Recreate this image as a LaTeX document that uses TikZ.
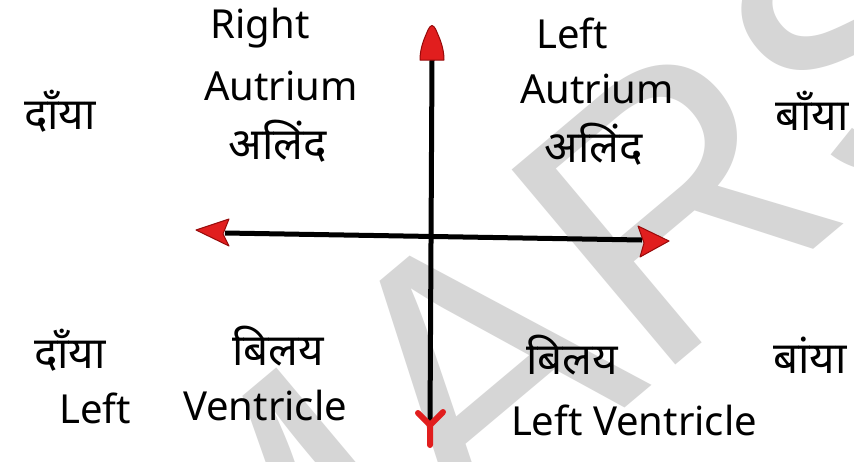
\documentclass[tikz,border=0pt]{standalone}
\usepackage{fontspec}
\setmainfont{Noto Sans}
\newfontfamily\deva[Script=Devanagari]{Noto Sans}
\newfontfamily\wmfont{Liberation Sans}
\usetikzlibrary{arrows.meta}
\definecolor{tipred}{RGB}{225,30,30}
\definecolor{tipdark}{RGB}{150,10,10}
\definecolor{wmgray}{RGB}{214,214,214}
\tikzset{
  lat/.style={inner sep=0pt, font=\fontsize{40}{44}\selectfont},
  dev/.style={inner sep=0pt, font=\deva\fontsize{44}{48}\selectfont},
  axis/.style={line width=5pt, black},
  tipfill/.style={fill=tipred, draw=tipdark, line width=1pt, line join=round}
}
\begin{document}
\begin{tikzpicture}[x=1pt,y=-1pt]
\useasboundingbox (0,0) rectangle (854,461);
\fill[white] (0,0) rectangle (854,461);
% watermark
\node[rotate=40, text=wmgray, inner sep=0pt, font=\wmfont\fontsize{370}{370}\selectfont] (wm) at (555,300) {MARS};
% axis end points
\coordinate (vt) at (432,60);
\coordinate (vb) at (430,425);
\coordinate (hl) at (225,233);
\coordinate (hr) at (642,240);
\draw[axis] (vt) -- (vb);
\draw[axis] (hl) -- (hr);
% arrow heads
\path[tipfill] (vt) ++(-12,0) .. controls ++(0,-13) and ++(-3,7) .. ++(8,-30) .. controls ++(3,-6) and ++(-3,-6) .. ++(8,0) .. controls ++(3,7) and ++(0,-13) .. ++(8,30) -- cycle;
\path[tipfill] (hl) ++(4,-14) -- ++(-33,11) -- ++(33,16) -- ++(-6,-12) -- cycle;
\path[tipfill] (hr) ++(-4,-14) -- ++(31,15) -- ++(-29,16) -- ++(4,-14) -- cycle;
\draw[tipred, line width=6pt, line cap=round, line join=round] (vb) ++(0,20) -- (vb) -- ++(-12,-12) (vb) -- ++(13,-13);
% labels
\node[dev] (dl1) at (60,111) {दाँया};
\node[lat] (r1) at (260,28) {Right};
\node[lat] (r2) at (281,86) {Autrium};
\node[dev] (r3) at (278,141) {अलिंद};
\node[lat] (l1) at (572,33) {Left};
\node[lat] (l2) at (597,89) {Autrium};
\node[dev] (l3) at (594,144) {अलिंद};
\node[dev] (dr1) at (812,111) {बाँया};
\node[dev] (dl2) at (70,350) {दाँया};
\node[lat] (lf) at (95,408) {Left};
\node[dev] (b1) at (278,346) {बिलय};
\node[lat] (v1) at (265,405) {Ventricle};
\node[dev] (b2) at (572,355) {बिलय};
\node[lat] (v2) at (634,420) {Left Ventricle};
\node[dev] (dr2) at (810,355) {बांया};
\end{tikzpicture}
\end{document}
